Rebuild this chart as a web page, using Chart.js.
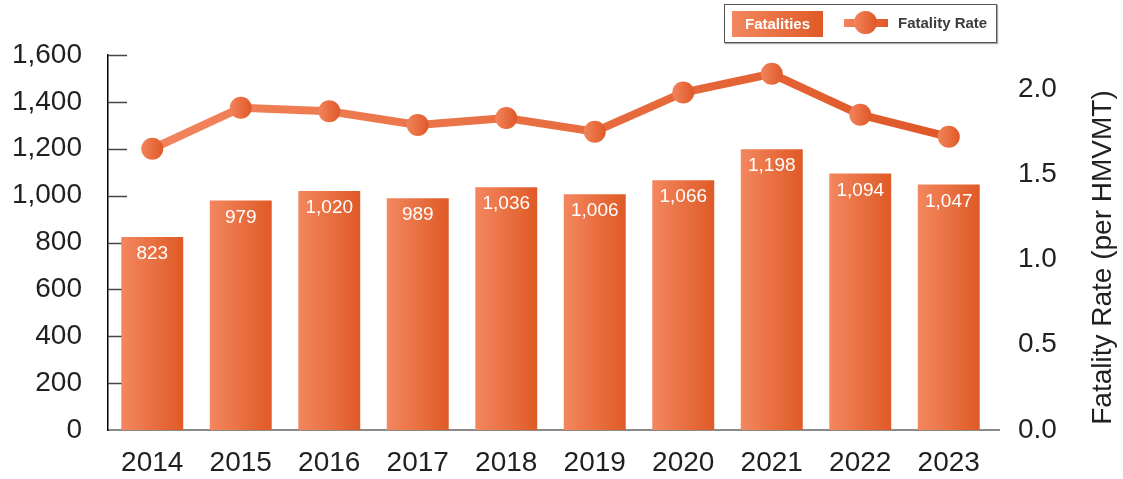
<!DOCTYPE html>
<html><head><meta charset="utf-8">
<script src="https://cdn.jsdelivr.net/npm/chart.js@4/dist/chart.umd.min.js"></script>
<style>
html,body{margin:0;padding:0;background:#fff;}
#wrap{position:relative;width:1123px;height:479px;}
#legend{position:absolute;left:724px;top:4px;width:271px;height:37px;border:1px solid #555;box-shadow:1px 1px 1px #aaa;background:#fff;font-family:'Liberation Sans',Arial,sans-serif;font-weight:bold;font-size:15px;}
#lg1{position:absolute;left:7px;top:6px;width:91px;height:26px;background:linear-gradient(to right,#f3875f,#df5a26);color:#fff;line-height:26px;text-align:center;}
#lg2line{position:absolute;left:119px;top:14px;width:44px;height:8px;background:linear-gradient(to right,#f2845c,#df5828);}
#lg2dot{position:absolute;left:129px;top:6px;width:23px;height:23px;border-radius:50%;background:linear-gradient(to right,#f2845c,#df5828);}
#lg2txt{position:absolute;left:173px;top:9px;color:#3c3c3c;}
</style></head>
<body>
<div id="wrap">
<canvas id="c" width="1123" height="479"></canvas>
<div id="legend"><div id="lg1">Fatalities</div><div id="lg2line"></div><div id="lg2dot"></div><div id="lg2txt">Fatality Rate</div></div>
</div>
<script>
const years = ['2014','2015','2016','2017','2018','2019','2020','2021','2022','2023'];
const fatalities = [823, 979, 1020, 989, 1036, 1006, 1066, 1198, 1094, 1047];
const fatalityRate = [1.65, 1.89, 1.87, 1.79, 1.83, 1.75, 1.98, 2.09, 1.85, 1.72];
const leftTicks = [0, 200, 400, 600, 800, 1000, 1200, 1400, 1600];
const rightTicks = [0.0, 0.5, 1.0, 1.5, 2.0];
const rightTitle = 'Fatality Rate (per HMVMT)';

const FONT = "'Liberation Sans', Arial, sans-serif";
const TXT = '#231f20';
const BAR_PCT = 0.70;

function barGrad(ctx){
  const chart = ctx.chart;
  const xs = chart.scales && chart.scales.x;
  if (!xs || !chart.chartArea || ctx.dataIndex === undefined) return '#e8703e';
  const cx = xs.getPixelForValue(ctx.dataIndex);
  const w = xs.width / years.length * BAR_PCT;
  const g = chart.ctx.createLinearGradient(cx - w/2, 0, cx + w/2, 0);
  g.addColorStop(0, '#f3875f'); g.addColorStop(1, '#df5a26');
  return g;
}
function lineGrad(ctx){
  const chart = ctx.chart;
  const xs = chart.scales && chart.scales.x;
  if (!xs || !chart.chartArea) return '#e8703e';
  const g = chart.ctx.createLinearGradient(xs.getPixelForValue(0), 0, xs.getPixelForValue(years.length-1), 0);
  g.addColorStop(0, '#f2845c'); g.addColorStop(1, '#df5828');
  return g;
}
function pointGrad(ctx){
  const chart = ctx.chart;
  const xs = chart.scales && chart.scales.x;
  if (!xs || !chart.chartArea || ctx.dataIndex === undefined) return '#e8703e';
  const cx = xs.getPixelForValue(ctx.dataIndex);
  const g = chart.ctx.createLinearGradient(cx - 11, 0, cx + 11, 0);
  g.addColorStop(0, '#f2845c'); g.addColorStop(1, '#df5828');
  return g;
}

const innerTicks = {
  id: 'innerTicks',
  beforeDatasetsDraw(chart){
    const y = chart.scales.y; const c = chart.ctx; const a = chart.chartArea;
    c.save(); c.strokeStyle = '#444'; c.lineWidth = 1.5;
    y.ticks.forEach(t => {
      if (t.value === 0) return;
      const py = Math.round(y.getPixelForValue(t.value)) + 0.5;
      c.beginPath(); c.moveTo(y.right, py); c.lineTo(y.right + 19, py); c.stroke();
    });
    // extend the bottom axis line a little past the plot area, as in the original
    c.strokeStyle = '#8a8a8a'; c.lineWidth = 2;
    c.beginPath(); c.moveTo(a.right - 1, a.bottom); c.lineTo(a.right + 7, a.bottom); c.stroke();
    c.restore();
  }
};
const barLabels = {
  id: 'barLabels',
  afterDatasetDraw(chart, args){
    if (args.index !== 1) return;
    const c = chart.ctx; const meta = chart.getDatasetMeta(1);
    c.save(); c.fillStyle = '#fff'; c.font = '19px ' + FONT;
    c.textAlign = 'center'; c.textBaseline = 'middle';
    meta.data.forEach((el, i) => {
      c.fillText(fatalities[i].toLocaleString('en-US'), el.x, el.y + 17);
    });
    c.restore();
  }
};
const sideTitle = {
  id: 'sideTitle',
  afterDraw(chart){
    const c = chart.ctx; const a = chart.chartArea;
    c.save(); c.fillStyle = TXT; c.font = '28px ' + FONT;
    c.textAlign = 'center'; c.textBaseline = 'middle';
    c.translate(chart.width - 20, (a.top + a.bottom)/2 + 15);
    c.rotate(-Math.PI/2); c.fillText(rightTitle, 0, 0);
    c.restore();
  }
};

new Chart(document.getElementById('c'), {
  data: {
    labels: years,
    datasets: [
      { type: 'line', label: 'Fatality Rate', data: fatalityRate, yAxisID: 'y1', order: 0,
        borderColor: lineGrad, borderWidth: 8, pointRadius: 11, pointHoverRadius: 11,
        pointBackgroundColor: pointGrad, pointBorderWidth: 0, tension: 0, clip: false },
      { type: 'bar', label: 'Fatalities', data: fatalities, yAxisID: 'y', order: 1,
        backgroundColor: barGrad, borderWidth: 0, barPercentage: BAR_PCT, categoryPercentage: 1 }
    ]
  },
  options: {
    responsive: false, devicePixelRatio: 1, animation: false,
    layout: { padding: { top: 55, left: 0, right: 0, bottom: 0 } },
    plugins: { legend: { display: false }, tooltip: { enabled: false } },
    scales: {
      x: {
        grid: { display: false, drawTicks: false },
        border: { display: true, color: '#8a8a8a', width: 2 },
        ticks: { font: { size: 28, family: FONT }, color: TXT, padding: 16 },
        afterFit(s){ s.height = 49; }
      },
      y: {
        position: 'left', min: 0, max: 1600,
        grid: { display: false, drawTicks: false },
        border: { display: true, color: '#000', width: 1.5 },
        ticks: { stepSize: 200, font: { size: 28, family: FONT }, color: TXT, padding: 26,
          callback: v => Number(v).toLocaleString('en-US') },
        afterBuildTicks(s){ s.ticks = leftTicks.map(v => ({ value: v })); },
        afterFit(s){ s.width = 108; }
      },
      y1: {
        position: 'right', min: 0, max: 2.2,
        grid: { display: false, drawTicks: false },
        border: { display: false },
        ticks: { font: { size: 28, family: FONT }, color: TXT, padding: 25,
          callback: v => Number(v).toFixed(1) },
        afterBuildTicks(s){ s.ticks = rightTicks.map(v => ({ value: v })); },
        afterFit(s){ s.width = 130; }
      }
    }
  },
  plugins: [innerTicks, barLabels, sideTitle]
});
</script>
</body></html>
